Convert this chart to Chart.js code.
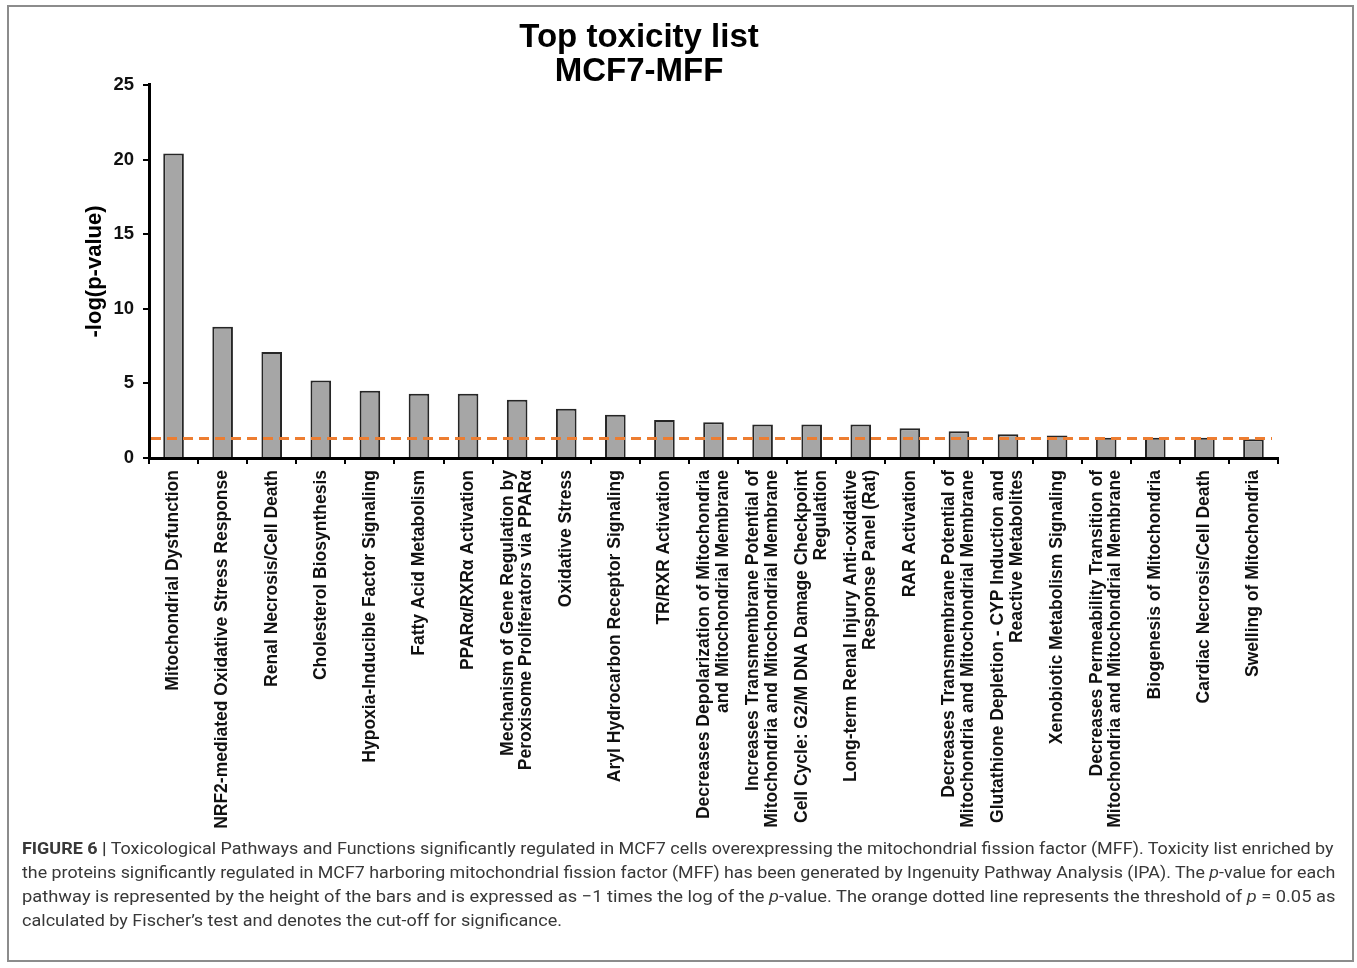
<!DOCTYPE html>
<html>
<head>
<meta charset="utf-8">
<script src="https://cdn.jsdelivr.net/npm/chart.js@4.4.1/dist/chart.umd.min.js"></script>
<style>
html,body{margin:0;padding:0;background:#fff;}
#frame{position:absolute;left:7px;top:5px;width:1343px;height:953px;border:2px solid #8c8c8c;box-sizing:content-box;}
#wrap{position:absolute;left:0;top:0;width:1357px;height:838px;}
#caption{position:absolute;left:22px;top:836px;font-family:Roboto,"Noto Sans",sans-serif;font-size:17px;line-height:24px;color:#383838;}
.ln{white-space:nowrap;transform-origin:0 50%;display:block;width:max-content;}
</style>
</head>
<body>
<div id="frame"></div>
<div id="wrap"><canvas id="c" width="1357" height="838"></canvas></div>
<div id="caption">
<div class="ln"><b>FIGURE 6 |</b> Toxicological Pathways and Functions significantly regulated in MCF7 cells overexpressing the mitochondrial fission factor (MFF). Toxicity list enriched by</div>
<div class="ln">the proteins significantly regulated in MCF7 harboring mitochondrial fission factor (MFF) has been generated by Ingenuity Pathway Analysis (IPA). The <i>p</i>-value for each</div>
<div class="ln">pathway is represented by the height of the bars and is expressed as −1 times the log of the <i>p</i>-value. The orange dotted line represents the threshold of <i>p</i> = 0.05 as</div>
<div class="ln">calculated by Fischer’s test and denotes the cut-off for significance.</div>
</div>
<script>
// ---- data ----
const categories = [
  "Mitochondrial Dysfunction",
  "NRF2-mediated Oxidative Stress Response",
  "Renal Necrosis/Cell Death",
  "Cholesterol Biosynthesis",
  "Hypoxia-Inducible Factor Signaling",
  "Fatty Acid Metabolism",
  "PPARα/RXRα Activation",
  ["Mechanism of Gene Regulation by", "Peroxisome Proliferators via PPARα"],
  "Oxidative Stress",
  "Aryl Hydrocarbon Receptor Signaling",
  "TR/RXR Activation",
  ["Decreases Depolarization of Mitochondria", "and Mitochondrial Membrane"],
  ["Increases Transmembrane Potential of", "Mitochondria and Mitochondrial Membrane"],
  ["Cell Cycle: G2/M DNA Damage Checkpoint", "Regulation"],
  ["Long-term Renal Injury Anti-oxidative", "Response Panel (Rat)"],
  "RAR Activation",
  ["Decreases Transmembrane Potential of", "Mitochondria and Mitochondrial Membrane"],
  ["Glutathione Depletion - CYP Induction and", "Reactive Metabolites"],
  "Xenobiotic Metabolism Signaling",
  ["Decreases Permeability Transition of", "Mitochondria and Mitochondrial Membrane"],
  "Biogenesis of Mitochondria",
  "Cardiac Necrosis/Cell Death",
  "Swelling of Mitochondria"
];
const negLogP = [20.4, 8.8, 7.1, 5.2, 4.5, 4.3, 4.3, 3.9, 3.3, 2.9, 2.55, 2.4, 2.25, 2.25, 2.25, 2.0, 1.8, 1.6, 1.5, 1.35, 1.35, 1.35, 1.25];
const THRESHOLD = 1.3; // -log(0.05)
const Y_MIN = 0, Y_MAX = 25, Y_STEP = 5;
const titleLines = ["Top toxicity list", "MCF7-MFF"];
const yTitle = "-log(p-value)";

// ---- chart ----
const FAM = '"Liberation Sans", Arial, Helvetica, sans-serif';
Chart.defaults.font.family = FAM;
const X_FONT_SIZE = 17.5, X_LINE_H = 1.08;

const thresholdPlugin = {
  id: 'threshold',
  afterDatasetsDraw(chart) {
    const {ctx, chartArea, scales: {y}} = chart;
    const py = y.getPixelForValue(THRESHOLD);
    ctx.save();
    ctx.strokeStyle = '#ed7d31';
    ctx.lineWidth = 3;
    ctx.setLineDash([10, 6]);
    ctx.beginPath();
    ctx.moveTo(chartArea.left + 2, py);
    ctx.lineTo(chartArea.right - 6, py);
    ctx.stroke();
    ctx.restore();
  }
};

// center multi-line rotated category labels on their tick
const centerLabelsPlugin = {
  id: 'centerLabels',
  beforeDraw(chart) {
    const s = chart.scales.x;
    const lh = X_FONT_SIZE * X_LINE_H;
    s.getLabelItems().forEach(it => {
      if (Array.isArray(it.label) && !it._centered) {
        it.options.translation[0] -= (it.label.length - 1) * lh / 2;
        it._centered = true;
      }
    });
  }
};

new Chart(document.getElementById('c'), {
  type: 'bar',
  data: {
    labels: categories,
    datasets: [{
      label: yTitle,
      data: negLogP,
      backgroundColor: '#a6a6a6',
      borderColor: '#262626',
      borderWidth: 2,
      barPercentage: 0.42,
      categoryPercentage: 1
    }]
  },
  options: {
    responsive: false,
    animation: false,
    devicePixelRatio: 1,
    layout: {padding: {left: 0, right: 79, top: 0, bottom: 0}},
    plugins: {
      legend: {display: false},
      tooltip: {enabled: false},
      title: {
        display: true,
        text: titleLines,
        color: '#000',
        font: {family: FAM, size: 33, weight: 'bold', lineHeight: 1.03},
        padding: {top: 21, bottom: -4}
      }
    },
    scales: {
      x: {
        grid: {display: true, drawOnChartArea: false, offset: true, tickLength: 6, color: '#000', lineWidth: 2},
        border: {display: true, color: '#000', width: 3},
        ticks: {autoSkip: false, maxRotation: 90, minRotation: 90, padding: 6, color: '#111',
                font: {family: FAM, size: X_FONT_SIZE, weight: 'bold', lineHeight: X_LINE_H}},
        afterFit: (s) => { s.height = 380; }
      },
      y: {
        min: Y_MIN, max: Y_MAX,
        ticks: {stepSize: Y_STEP, padding: 9, color: '#111', font: {family: FAM, size: 18.5, weight: 'bold'}},
        grid: {drawOnChartArea: false, tickLength: 6, color: '#000', lineWidth: 2},
        border: {color: '#000', width: 3},
        title: {display: true, text: yTitle, color: '#000', font: {family: FAM, size: 22, weight: 'bold'},
                padding: {top: 82, bottom: 0}},
        afterFit: (s) => { s.width = 149; }
      }
    }
  },
  plugins: [thresholdPlugin, centerLabelsPlugin]
});

// ---- caption fitting ----
const lineTargets = [1312, 1313, 1313];
const lns = document.querySelectorAll('#caption .ln');
let scales = [];
lns.forEach((el, i) => {
  if (i < lineTargets.length) {
    const w = el.offsetWidth;
    const s = lineTargets[i] / w;
    scales.push(s);
    el.style.transform = 'scaleX(' + s + ')';
  }
});
const avg = scales.reduce((a, b) => a + b, 0) / scales.length;
lns[3].style.transform = 'scaleX(' + avg + ')';
</script>
</body>
</html>
